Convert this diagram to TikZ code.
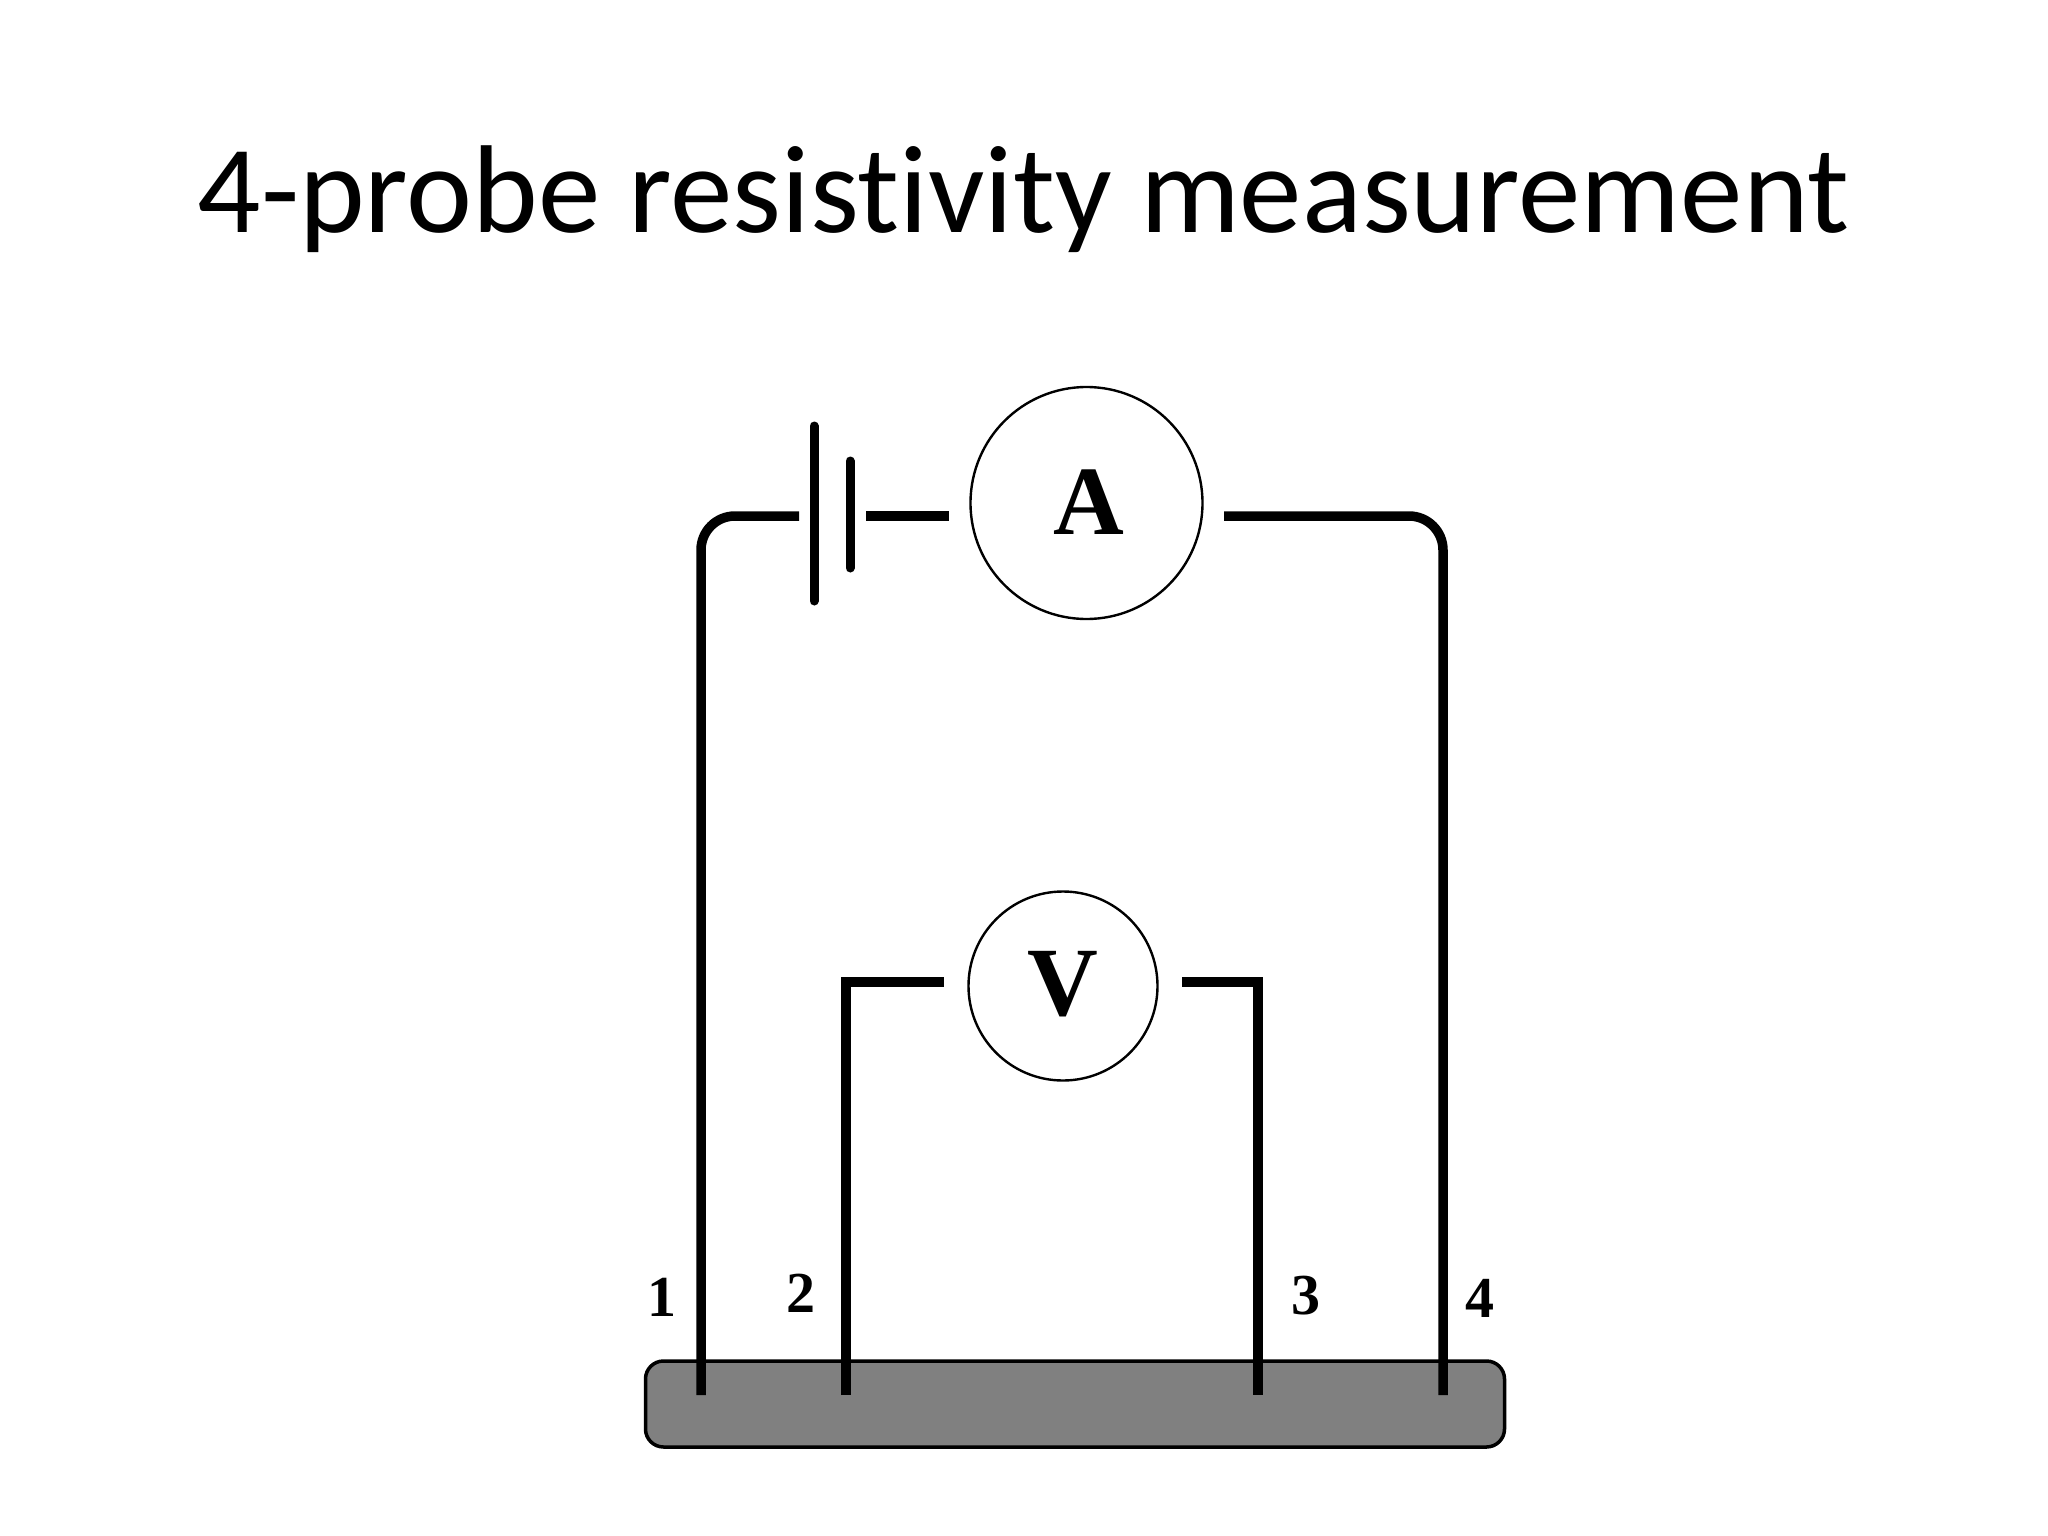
\documentclass[tikz,border=0pt]{standalone}
\usepackage{fontspec}
\setmainfont{Liberation Serif}
\newfontfamily\titlefont[Ligatures=NoCommon]{Carlito}
\tikzset{
  wire/.style={draw=black,line width=9.5bp},
  plate/.style={draw=black,line width=9bp,line cap=round},
  meter/.style={circle,draw=black,line width=2.4bp,inner sep=0pt,fill=white},
  metertext/.style={font=\fontsize{98bp}{98bp}\selectfont\bfseries},
  probelabel/.style={font=\fontsize{58bp}{58bp}\selectfont\bfseries,inner sep=0pt},
}
\begin{document}
\begin{tikzpicture}[x=1bp,y=-1bp]
\useasboundingbox (0,0) rectangle (2048,1536);
\fill[white] (0,0) rectangle (2048,1536);
\node[font=\titlefont\fontsize{125bp}{125bp}\selectfont,anchor=base,inner sep=0pt] (title) at (1023.5,232.5) {4-probe resistivity measurement};
\node[draw=black,line width=3.5bp,fill={rgb,255:red,128;green,128;blue,128},rounded corners=18bp,minimum width=859bp,minimum height=86bp,inner sep=0pt] (sample) at (1075,1404) {};
\node[meter,minimum size=232bp] (ammeter) at (1086.5,503) {};
\node[metertext,inner sep=0pt] (Atext) at (1089,502) {A};
\node[meter,minimum size=189bp] (voltmeter) at (1063,986) {};
\node[metertext,inner sep=0pt] (Vtext) at (1063,984) {V};
% free ends
\coordinate (p1) at (701,1395);
\coordinate (p2) at (846,1395);
\coordinate (p3) at (1258,1395);
\coordinate (p4) at (1443,1395);
\coordinate (batL) at (799,516);
\coordinate (batR) at (866,516);
\coordinate (amL) at (949,516);
\coordinate (amR) at (1224,516);
\coordinate (vL) at (944,982);
\coordinate (vR) at (1182,982);
\coordinate (longT) at (814,426);
\coordinate (longB) at (814,601);
\coordinate (shortT) at (850,461);
\coordinate (shortB) at (850,568);
% battery plates
\draw[plate] (longT) -- (longB);
\draw[plate] (shortT) -- (shortB);
% current loop
\draw[wire,rounded corners=34bp] (p1) |- (batL);
\draw[wire] (batR) -- (amL);
\draw[wire,rounded corners=34bp] (amR) -| (p4);
% voltage loop
\draw[wire,miter limit=10] (p2) |- (vL);
\draw[wire,miter limit=10] (vR) -| (p3);
% probe labels
\node[probelabel] (n1) at (662,1297) {1};
\node[probelabel] (n2) at (801,1293) {2};
\node[probelabel] (n3) at (1305.5,1295.5) {3};
\node[probelabel] (n4) at (1479.5,1298.5) {4};
\end{tikzpicture}
\end{document}
